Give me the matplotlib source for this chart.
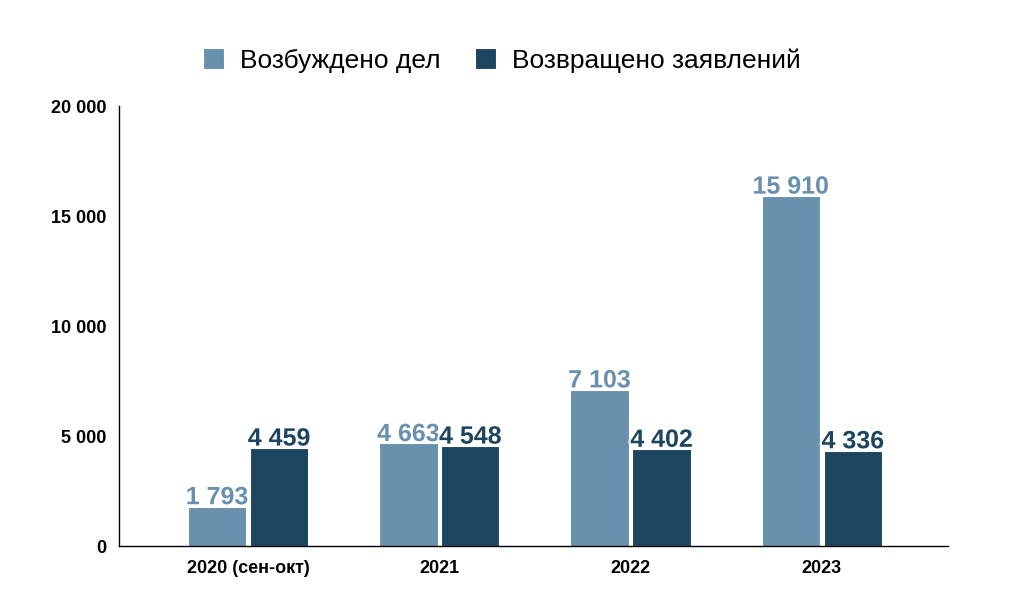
import matplotlib
matplotlib.use("Agg")
import matplotlib.pyplot as plt
import matplotlib.patheffects as pe
import numpy as np

categories = ["2020 (сен-окт)", "2021", "2022", "2023"]
series_names = ["Возбуждено дел", "Возвращено заявлений"]
vozb = [1793, 4663, 7103, 15910]
vozv = [4459, 4548, 4402, 4336]
yticks = [0, 5000, 10000, 15000, 20000]

def fmt(v):
    return f"{v:,}".replace(",", " ")

plt.rcParams['font.family'] = ['Liberation Sans', 'DejaVu Sans']
c1 = "#6990AD"
c2 = "#1D4560"

fig = plt.figure(figsize=(10.24, 6.04), dpi=100)
ax = fig.add_axes([0.1162, 0.096, 0.8096, 0.7285])
x = np.arange(len(categories))
w = 0.305
off = 0.162
b1 = ax.bar(x - off, vozb, w, color=c1, edgecolor="white", linewidth=0.8, label=series_names[0])
b2 = ax.bar(x + off, vozv, w, color=c2, edgecolor="white", linewidth=0.8, label=series_names[1])

stroke = [pe.withStroke(linewidth=3, foreground="white")]
for xi, v in zip(x - off, vozb):
    ax.text(xi, v - 120, fmt(v), ha="center", va="bottom", fontsize=18, fontweight="bold",
            color=c1, path_effects=stroke)
for xi, v in zip(x + off, vozv):
    ax.text(xi, v - 120, fmt(v), ha="center", va="bottom", fontsize=18, fontweight="bold",
            color=c2, path_effects=stroke)

ax.set_xlim(-0.675, 3.66)
ax.set_ylim(0, 20000)
ax.set_yticks(yticks)
ax.set_yticklabels([fmt(t) for t in yticks], fontsize=13, fontweight="bold")
ax.set_xticks(x)
ax.set_xticklabels(categories, fontsize=13, fontweight="bold")
ax.tick_params(axis="both", length=0, pad=10)
ax.tick_params(axis="y", pad=9)
for s in ["top", "right"]:
    ax.spines[s].set_visible(False)
ax.spines["left"].set_linewidth(1.0)
ax.spines["bottom"].set_linewidth(1.0)

fig.legend(handles=[b1, b2], loc="center", bbox_to_anchor=(0.49, 0.9), ncol=2, frameon=False,
           fontsize=19, handlelength=0.8, handleheight=0.8, handletextpad=0.6, columnspacing=1.3)

fig.savefig("out.png", dpi=100, facecolor="white")
